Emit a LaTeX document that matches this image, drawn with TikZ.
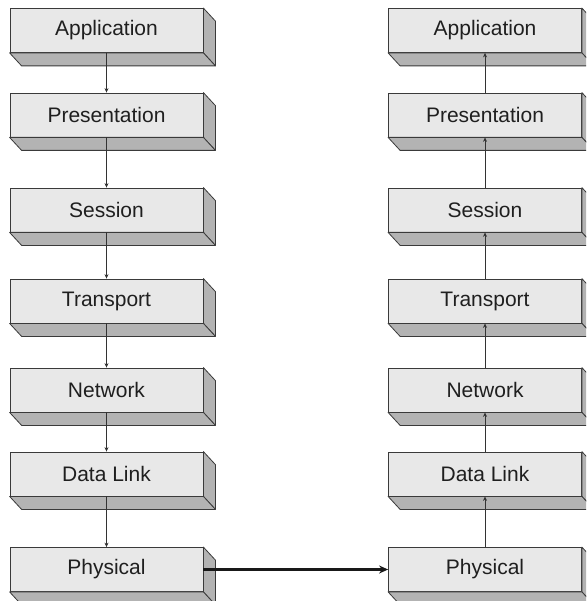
\documentclass[tikz,border=0pt]{standalone}
\usepackage{fontspec}
\setmainfont{Liberation Sans}
\usetikzlibrary{arrows.meta}
\definecolor{facegray}{HTML}{E8E8E8}
\definecolor{sidegray}{HTML}{B3B3B3}
\definecolor{edgegray}{HTML}{3A3A3A}

\begin{document}
\begin{tikzpicture}
  [x=1pt,y=-1pt,
   layer/.style={draw=edgegray,line width=0.8pt,fill=facegray,minimum width=193pt,
     minimum height=44pt,inner sep=0pt,font=\fontsize{21}{24}\selectfont,text=black!88},
   depth/.style={draw=edgegray,line width=0.8pt,fill=sidegray,line join=round},
   flow/.style={draw=black!80,line width=0.7pt,-{Stealth[length=4.5pt,width=4pt]}},
   wire/.style={draw=black!90,line width=2.2pt,-{Stealth[length=9pt,width=8pt]}}]

  \clip (0,0) rectangle (586,601);

  \node[layer] (lapp)   at (106.5,30.5) {Application};
  \node[layer] (lpres)  at (106.5,115)  {Presentation};
  \node[layer] (lsess)  at (106.5,210)  {Session};
  \node[layer] (ltrans) at (106.5,301)  {Transport};
  \node[layer] (lnet)   at (106.5,390)  {Network};
  \node[layer] (ldata)  at (106.5,474)  {Data Link};
  \node[layer] (lphys)  at (106.5,569.5) {Physical};

  \node[layer] (rapp)   at (485,30.5) {Application};
  \node[layer] (rpres)  at (485,115)  {Presentation};
  \node[layer] (rsess)  at (485,210)  {Session};
  \node[layer] (rtrans) at (485,301)  {Transport};
  \node[layer] (rnet)   at (485,390)  {Network};
  \node[layer] (rdata)  at (485,474)  {Data Link};
  \node[layer] (rphys)  at (485,569.5) {Physical};

  % side and bottom faces
  \foreach \n in {lapp,lpres,lsess,ltrans,lnet,ldata,lphys,rapp,rpres,rsess,rtrans,rnet,rdata,rphys} {
    \path[depth] (\n.north east) -- ([shift={(12,13)}]\n.north east)
      -- ([shift={(12,13)}]\n.south east) -- (\n.south east) -- cycle;
    \path[depth] (\n.south west) -- ([shift={(12,13)}]\n.south west)
      -- ([shift={(12,13)}]\n.south east) -- (\n.south east) -- cycle;
  }

  \foreach \from/\to in {lapp/lpres,lpres/lsess,lsess/ltrans,ltrans/lnet,lnet/ldata,ldata/lphys}
    \draw[flow] (\from.south) -- (\to.north);
  \foreach \from/\to in {rphys/rdata,rdata/rnet,rnet/rtrans,rtrans/rsess,rsess/rpres,rpres/rapp}
    \draw[flow] (\from.north) -- (\to.south);

  \draw[wire] (lphys.east) -- (rphys.west);

\end{tikzpicture}
\end{document}
